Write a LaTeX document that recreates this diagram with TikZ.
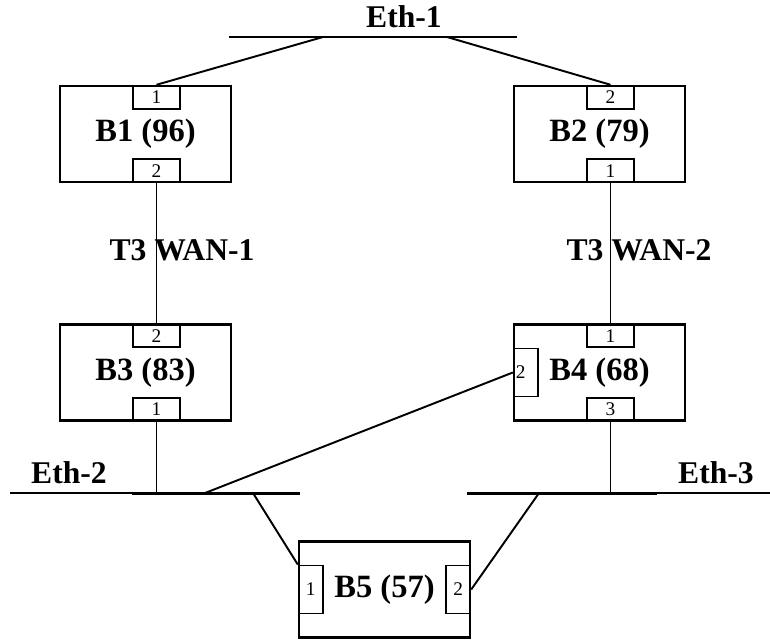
\documentclass[tikz,border=0pt]{standalone}
\usepackage{fontspec}
\setmainfont{Liberation Serif}

\tikzset{
  bridge/.style = {draw, line width=1.4pt, minimum width=3.42cm, minimum height=1.92cm,
                   inner sep=0pt, font=\fontsize{18.5}{22}\selectfont\bfseries},
  porth/.style  = {draw, line width=1.1pt, minimum width=0.94cm, minimum height=0.46cm,
                   inner sep=0pt, xshift=0.22cm, font=\fontsize{11}{12}\selectfont},
  portv/.style  = {draw, line width=1.1pt, minimum width=0.48cm, minimum height=0.96cm,
                   inner sep=0pt, font=\fontsize{11}{12}\selectfont},
  netlabel/.style = {font=\fontsize{18}{22}\selectfont\bfseries, inner sep=0pt},
  bus/.style  = {line width=1.7pt},
  link/.style = {line width=1.1pt}
}

\begin{document}
\begin{tikzpicture}[x = 0.02cm, y = -0.02cm]
  \useasboundingbox (0,0) rectangle (770,639);

  % bridges
  \node[bridge] (b1) at (145.5,134) {B1 (96)};
  \node[bridge] (b2) at (599.5,134) {B2 (79)};
  \node[bridge] (b3) at (145.5,372.5) {B3 (83)};
  \node[bridge] (b4) at (599.5,372.5) {B4 (68)};
  \node[bridge] (b5) at (384.5,589.5) {B5 (57)};

  % ports
  \node[porth, anchor=north] (b1p1) at (b1.north) {1};
  \node[porth, anchor=south] (b1p2) at (b1.south) {2};
  \node[porth, anchor=north] (b2p2) at (b2.north) {2};
  \node[porth, anchor=south] (b2p1) at (b2.south) {1};
  \node[porth, anchor=north] (b3p2) at (b3.north) {2};
  \node[porth, anchor=south] (b3p1) at (b3.south) {1};
  \node[porth, anchor=north] (b4p1) at (b4.north) {1};
  \node[porth, anchor=south] (b4p3) at (b4.south) {3};
  \node[portv, anchor=west, align=left, text width=0.4cm, inner xsep=1pt] (b4p2) at (b4.west) {2};
  \node[portv, anchor=west] (b5p1) at (b5.west) {1};
  \node[portv, anchor=east] (b5p2) at (b5.east) {2};

  % ethernet segments
  \coordinate (eth1w) at (229,37);
  \coordinate (eth1e) at (517,37);
  \coordinate (eth2w) at (10,493);
  \coordinate (eth2m) at (132,493);
  \coordinate (eth2e) at (300,493);
  \coordinate (eth3w) at (467,493);
  \coordinate (eth3m) at (657,493);
  \coordinate (eth3e) at (770,493);
  \draw[bus] (eth1w) -- (eth1e);
  \draw[link] (eth2w) -- (eth2m);
  \draw[bus] (eth2m) -- (eth2e);
  \draw[bus] (eth3w) -- (eth3m);
  \draw[link] (eth3m) -- (eth3e);

  \node[netlabel] (eth1) at (404,17) {Eth-1};
  \node[netlabel] (eth2) at (69,473) {Eth-2};
  \node[netlabel] (eth3) at (716,473) {Eth-3};
  \node[netlabel] (wan1) at (182,250) {T3 WAN-1};
  \node[netlabel] (wan2) at (639,250) {T3 WAN-2};

  % taps on the segments
  \coordinate (tap1a) at (323,37);
  \coordinate (tap1b) at (447,37);
  \coordinate (tap2a) at (205,493);
  \coordinate (tap2b) at (253,493);
  \coordinate (tap3a) at (539,493);

  % links
  \draw[link] (tap1a) -- (b1p1.north);
  \draw[link] (tap1b) -- (b2p2.north);
  \draw[link] (b1p2.south) -- (b3p2.north);
  \draw[link] (b2p1.south) -- (b4p1.north);
  \draw[link] (b3p1.south) -- (b3p1.south |- eth2e);
  \draw[link] (b4p3.south) -- (b4p3.south |- eth3e);
  \draw[link] (b4p2.west) -- (tap2a);
  \draw[link] (tap2b) -- (b5p1.north west);
  \draw[link] (tap3a) -- (b5p2.east);
\end{tikzpicture}
\end{document}
